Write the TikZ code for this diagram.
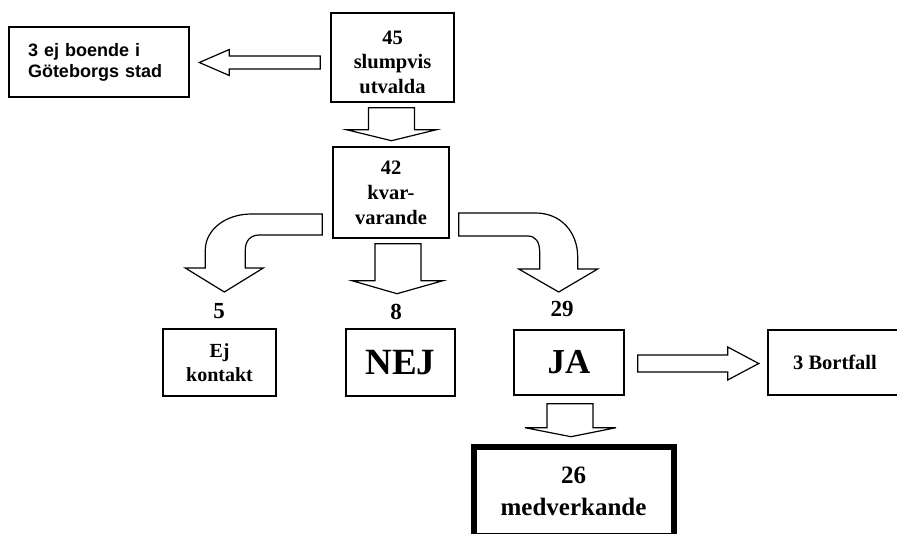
\documentclass[tikz,border=0pt]{standalone}
\usepackage{fontspec}
\setmainfont{Liberation Serif}[BoldFont={Liberation Serif Bold}]
\newfontfamily\arialf{Liberation Sans}[BoldFont={Liberation Sans Bold}]
\begin{document}
\begin{tikzpicture}[x=1pt,y=-1pt,
  box/.style={draw=black,line width=1.4pt,fill=white,inner sep=0pt,align=center},
  barrow/.style={draw=black,line width=1.2pt,fill=white,line join=miter},
  lbl/.style={inner sep=0pt,font=\bfseries\fontsize{23}{27}\selectfont}]
\useasboundingbox (0,0) rectangle (897,533);
\clip (0,0) rectangle (897,533);
% boxes
\node[box,minimum width=180pt,minimum height=70pt,text width=142pt,inner xsep=19pt,align=left,
  font=\arialf\bfseries\fontsize{18}{21}\selectfont] (b3ej) at (99,62) {3 ej boende i\\Göteborgs stad};
\node[box,minimum width=123pt,minimum height=89pt,font=\bfseries\fontsize{20.5}{24.5}\selectfont] (n45) at (392.5,57.5) {\rule{0pt}{23pt}45\\slumpvis\\utvalda};
\node[box,minimum width=116pt,minimum height=91pt,font=\bfseries\fontsize{20.5}{25}\selectfont] (n42) at (391,192.5) {42\\kvar-\\varande};
\node[box,minimum width=113pt,minimum height=67pt,font=\bfseries\fontsize{20}{24}\selectfont] (ejk) at (219.5,362.5) {Ej\\kontakt};
\node[box,minimum width=109pt,minimum height=67pt,font=\bfseries\fontsize{37}{40}\selectfont] (nej) at (400.5,362.5) {NEJ};
\node[box,minimum width=110pt,minimum height=65pt,font=\bfseries\fontsize{35}{40}\selectfont] (ja) at (569,362.5) {JA};
\node[box,minimum width=134pt,minimum height=65pt,font=\bfseries\fontsize{20.5}{24}\selectfont] (bort) at (835,362.5) {3 Bortfall};
\node[box,line width=6pt,minimum width=200pt,minimum height=89pt,font=\bfseries\fontsize{25}{32}\selectfont] (n26) at (573.5,491) {26\\medverkande};
% count labels
\node[lbl] (l5) at (219,311) {5};
\node[lbl] (l8) at (396,312) {8};
\node[lbl] (l29) at (562,309) {29};
% block arrows: n45 -> b3ej
\begin{scope}[shift={(n45.west)}]
\draw[barrow] (-10,-1.5) -- (-101,-1.5) -- (-101,-8) -- (-131,5) -- (-101,18) -- (-101,11.5) -- (-10,11.5) -- cycle;
\end{scope}
% n45 -> n42
\begin{scope}[shift={(n45.south)}]
\draw[barrow] (-24,5) -- (22,5) -- (22,27) -- (44,27) -- (-1,38) -- (-46,27) -- (-24,27) -- cycle;
\end{scope}
% n42 -> ejk (curved)
\begin{scope}[shift={(n42.west)}]
\draw[barrow] (-10,21.5) -- (-81,21.5) .. controls (-107,21.5) and (-127,37.5) .. (-127,57.5)
  -- (-127,75.5) -- (-147,75.5) -- (-108,99.5) -- (-69,75.5) -- (-87,75.5) -- (-87,57.5)
  .. controls (-87,48.5) and (-82,42.5) .. (-73,42.5) -- (-10,42.5) -- cycle;
\end{scope}
% n42 -> nej
\begin{scope}[shift={(n42.south)}]
\draw[barrow] (-16,5) -- (30,5) -- (30,42) -- (52,42) -- (6,55) -- (-39,42) -- (-16,42) -- cycle;
\end{scope}
% n42 -> ja (curved)
\begin{scope}[shift={(n42.east)}]
\draw[barrow] (9,20.5) -- (86,20.5) .. controls (111,20.5) and (128,39.5) .. (128,64.5)
  -- (128,76.5) -- (148,76.5) -- (109,99.5) -- (69,76.5) -- (90,76.5) -- (90,59.5)
  .. controls (90,49.5) and (86,43.5) .. (78,43.5) -- (9,43.5) -- cycle;
\end{scope}
% ja -> bort
\begin{scope}[shift={(ja.east)}]
\draw[barrow] (13,-7.5) -- (103,-7.5) -- (103,-15.5) -- (134,1) -- (103,17.5) -- (103,9.5) -- (13,9.5) -- cycle;
\end{scope}
% ja -> n26
\begin{scope}[shift={(ja.south)}]
\draw[barrow] (-22,8) -- (24,8) -- (24,32) -- (47,32) -- (2,41) -- (-44,32) -- (-22,32) -- cycle;
\end{scope}
\end{tikzpicture}
\end{document}
